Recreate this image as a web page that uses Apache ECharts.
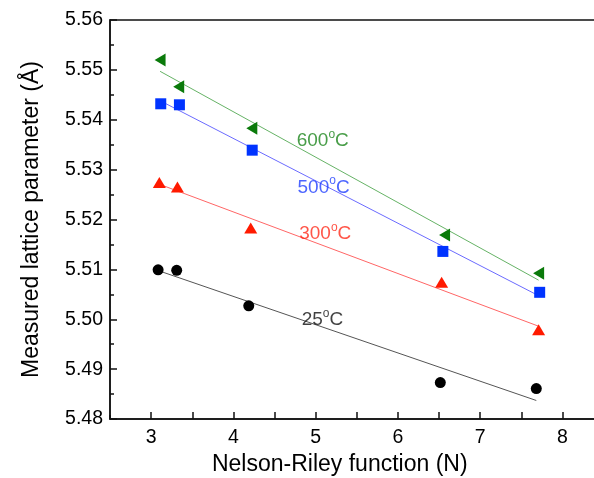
<!DOCTYPE html>
<html>
<head>
<meta charset="utf-8">
<script src="https://cdn.jsdelivr.net/npm/echarts@6/dist/echarts.min.js"></script>
<style>
html,body{margin:0;padding:0;background:#fff;}
#c{width:594px;height:478px;}
</style>
</head>
<body>
<div id="c"></div>
<script>
// ---- data ----
const x25  = [3.085, 3.311, 4.187, 6.516, 7.683];
const y25  = [5.5099, 5.5098, 5.5027, 5.4873, 5.4861];
const x300 = [3.100, 3.320, 4.211, 6.532, 7.711];
const y300 = [5.5274, 5.5265, 5.5183, 5.5074, 5.4979];
const x500 = [3.117, 3.344, 4.229, 6.547, 7.724];
const y500 = [5.5432, 5.5430, 5.5339, 5.5136, 5.5054];
const x600 = [3.109, 3.335, 4.224, 6.568, 7.711];
const y600 = [5.5520, 5.5466, 5.5383, 5.5169, 5.5092];

const tempNames = ['25', '300', '500', '600'];
const labelX = [4.83, 4.80, 4.78, 4.77];
const labelY = [5.4999, 5.5171, 5.5264, 5.5358];

const xTicks = [3, 4, 5, 6, 7, 8];
const yTicks = [5.48, 5.49, 5.50, 5.51, 5.52, 5.53, 5.54, 5.55, 5.56];

// ---- helpers ----
function pairs(xs, ys) { return xs.map((x, i) => [x, ys[i]]); }
function fit(xs, ys) {
  const n = xs.length;
  const mx = xs.reduce((a, b) => a + b, 0) / n;
  const my = ys.reduce((a, b) => a + b, 0) / n;
  let sxy = 0, sxx = 0;
  for (let i = 0; i < n; i++) { sxy += (xs[i] - mx) * (ys[i] - my); sxx += (xs[i] - mx) ** 2; }
  const k = sxy / sxx, b = my - k * mx;
  const x0 = Math.min(...xs), x1 = Math.max(...xs);
  return [[x0, k * x0 + b], [x1, k * x1 + b]];
}

const FONT = 'Liberation Sans, Arial, Helvetica, sans-serif';

const groups = [
  { xs: x25,  ys: y25,  mark: '#000000', line: '#555555', text: '#111111', symbol: 'circle',   size: 11, rot: 0 },
  { xs: x300, ys: y300, mark: '#ff1a00', line: '#ff6666', text: '#ff2a1a', symbol: 'triangle', size: [13, 11], rot: 0 },
  { xs: x500, ys: y500, mark: '#0033ff', line: '#6b6bff', text: '#1f3fff', symbol: 'rect',     size: 11, rot: 0 },
  { xs: x600, ys: y600, mark: '#0a7a0a', line: '#66b366', text: '#1a851a', symbol: 'triangle', size: [13, 11], rot: 90 }
];

const series = [];
groups.forEach((g, i) => {
  series.push({
    type: 'line', data: fit(g.xs, g.ys), symbol: 'none', silent: true,
    lineStyle: { color: g.line, width: 1 }, z: 2
  });
  series.push({
    type: 'scatter', data: pairs(g.xs, g.ys), symbol: g.symbol, symbolSize: g.size,
    symbolRotate: g.rot, itemStyle: { color: g.mark, opacity: 1 }, z: 3
  });
  series.push({
    type: 'scatter', data: [[labelX[i], labelY[i]]], symbolSize: 0, z: 4,
    label: {
      show: true, position: 'right', distance: 0,
      formatter: tempNames[i] + '{s|o}C',
      color: g.text, fontFamily: FONT, fontSize: 19,
      rich: { s: { fontSize: 12, color: g.text, fontFamily: FONT, padding: [0, 0, 13, 0] } }
    }
  });
});

const chart = echarts.init(document.getElementById('c'), null, { renderer: 'canvas' });
chart.setOption({
  animation: false,
  backgroundColor: '#fff',
  grid: {
    left: 110, top: 20, bottom: 59, right: -9.5,
    containLabel: false, outerBoundsMode: 'none',
    show: true, borderColor: '#111', borderWidth: 1.5, backgroundColor: 'transparent'
  },
  xAxis: [{
    type: 'value', position: 'bottom', min: 2.5, max: 8.5, interval: 0.5,
    name: 'Nelson-Riley function (N)', nameLocation: 'middle', nameGap: 31,
    nameTextStyle: { fontFamily: FONT, fontSize: 23, color: '#000', padding: [0, 34, 0, 0] },
    axisLine: { show: true, lineStyle: { color: '#111', width: 1.5 } },
    axisTick: { show: true, inside: true, length: 7, lineStyle: { color: '#111', width: 1.5 },
      interval: function (idx, val) { return xTicks.indexOf(Number(val)) >= 0; } },
    axisLabel: { show: true, margin: 9, fontFamily: FONT, fontSize: 19.5, color: '#000',
      showMinLabel: false, showMaxLabel: false,
      formatter: function (v) { return xTicks.indexOf(Math.round(v * 100) / 100) >= 0 ? String(Math.round(v)) : ''; } },
    splitLine: { show: false }
  }, {
    type: 'value', position: 'bottom', min: 2.5, max: 8.5, interval: 0.5,
    axisLine: { show: false },
    axisTick: { show: true, inside: true, length: 4, lineStyle: { color: '#111', width: 1.5 } },
    axisLabel: { show: false },
    splitLine: { show: false }
  }],
  yAxis: {
    type: 'value', min: 5.48, max: 5.56, interval: 0.01,
    name: 'Measured lattice parameter (Å)', nameLocation: 'middle', nameGap: 67,
    nameTextStyle: { fontFamily: FONT, fontSize: 23, color: '#000' },
    axisLine: { show: true, lineStyle: { color: '#111', width: 1.5 } },
    axisTick: { show: true, inside: true, length: 7, lineStyle: { color: '#111', width: 1.5 } },
    minorTick: { show: true, splitNumber: 2, length: 4, lineStyle: { color: '#111', width: 1.5 } },
    axisLabel: { margin: 7, fontFamily: FONT, fontSize: 19.5, color: '#000',
      formatter: function (v) { return v.toFixed(2); } },
    splitLine: { show: false }
  },
  series: series
});
</script>
</body>
</html>
